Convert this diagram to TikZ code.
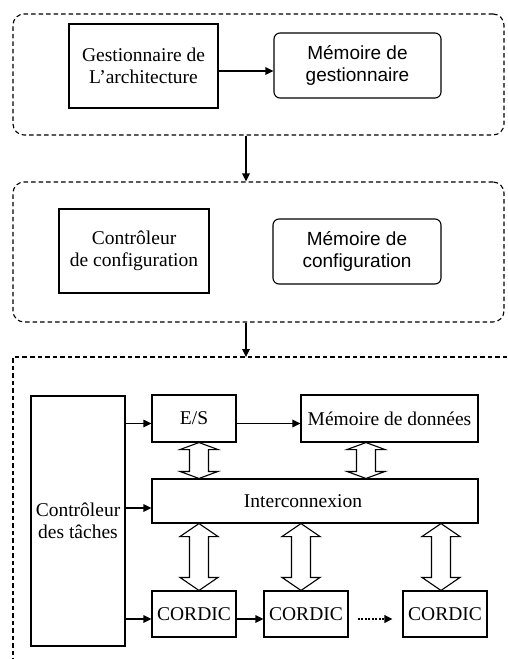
\documentclass[tikz,border=0pt]{standalone}
\usepackage{fontspec}
\setmainfont{Liberation Serif}
\setsansfont{Liberation Sans}
\usetikzlibrary{calc,arrows.meta}
\tikzset{
  box/.style={draw, line width=1.1pt, align=center, font=\fontsize{19.5}{22}\selectfont, inner sep=0pt},
  rbox/.style={box, rounded corners=6pt, font=\sffamily\fontsize{19}{22}\selectfont},
  dash group/.style={draw, dash pattern=on 4.5pt off 3pt, line width=1.1pt},
  group/.style={dash group, rounded corners=11pt, inner sep=0pt},
  conn/.style={line width=1.1pt, -{Triangle[length=8pt,width=7.5pt]}},
  hollow/.style={draw, line width=1.1pt, fill=white, line join=miter},
}
\newcommand\dblarrow[4]{%
  \coordinate (dt) at (#1,0 |- #2.south);
  \coordinate (db) at (#1,0 |- #3.north);
  \draw[hollow] (dt) -- ($(dt)+(19,#4)$) -- ($(dt)+(9.5,#4)$) -- ($(db)+(9.5,-#4)$)
    -- ($(db)+(19,-#4)$) -- (db) -- ($(db)+(-19,-#4)$) -- ($(db)+(-9.5,-#4)$)
    -- ($(dt)+(-9.5,#4)$) -- ($(dt)+(-19,#4)$) -- cycle;
}
\begin{document}
\begin{tikzpicture}[x=1pt,y=-1pt]
\useasboundingbox (0,0) rectangle (507,659);
% top group
\node[group, minimum width=491pt, minimum height=121pt] (b1) at (258.5,74.5) {};
\node[box, minimum width=149pt, minimum height=84pt] (g1) at (143.5,66) {Gestionnaire de\\L’architecture};
\node[rbox, minimum width=167pt, minimum height=65pt] (m1) at (357.5,65.5) {Mémoire de\\gestionnaire};
\draw[conn] ($(g1.east)+(0,5)$) -- ($(m1.west)+(0,5.5)$);
% middle group
\node[group, minimum width=491pt, minimum height=140pt] (b2) at (258.5,252) {};
\node[box, minimum width=150pt, minimum height=84pt] (c2) at (134,251) {Contrôleur\\de configuration};
\node[rbox, minimum width=168pt, minimum height=65pt] (m2) at (357,251.5) {Mémoire de\\configuration};
\draw[conn] (246,0 |- b1.south) -- (246,0 |- b2.north);
% bottom group (open)
\coordinate (b3tl) at (13,357);
\coordinate (b3tr) at (507,357);
\coordinate (b3bl) at (13,659);
\draw[dash group] (b3tr) -- (b3tl) -- (b3bl);
\draw[conn] (246,0 |- b2.south) -- (246,0 |- b3tl);
% bottom content
\node[box, minimum width=94pt, minimum height=250pt] (ct) at (78,521) {Contrôleur\\des tâches};
\node[box, minimum width=84pt, minimum height=47pt] (es) at (194,418.5) {E/S};
\node[box, minimum width=177pt, minimum height=47pt] (md) at (389.5,418.5) {Mémoire de données};
\node[box, minimum width=326pt, minimum height=44pt] (ic) at (315,501) {Interconnexion\hspace*{24pt}};
\node[box, minimum width=84pt, minimum height=46pt] (k1) at (194,614) {CORDIC};
\node[box, minimum width=84pt, minimum height=46pt] (k2) at (306,614) {CORDIC};
\node[box, minimum width=84pt, minimum height=46pt] (k3) at (445,614) {CORDIC};
\coordinate (ca) at ($(es.west)+(0,5)$);
\coordinate (cb) at ($(ic.west)+(0,7)$);
\coordinate (cc) at ($(k1.west)+(0,5)$);
\draw[conn] (ct.east |- ca) -- (ca);
\draw[conn] (ct.east |- cb) -- (cb);
\draw[conn] (ct.east |- cc) -- (cc);
\draw[conn] ($(es.east)+(0,5)$) -- ($(md.west)+(0,5)$);
\draw[conn] ($(k1.east)+(0,5)$) -- ($(k2.west)+(0,5)$);
\coordinate (dA) at ($(k2.east)+(9,5)$);
\coordinate (dB) at ($(k3.west)+(-10,5)$);
\draw[line width=2pt, dash pattern=on 2pt off 1.5pt, -{Triangle[length=8pt,width=7.5pt]}] (dA) -- (dB);
\dblarrow{199}{es}{ic}{7}
\dblarrow{366}{md}{ic}{7}
\dblarrow{199}{ic}{k1}{13}
\dblarrow{301}{ic}{k2}{13}
\dblarrow{441}{ic}{k3}{13}
\end{tikzpicture}
\end{document}
